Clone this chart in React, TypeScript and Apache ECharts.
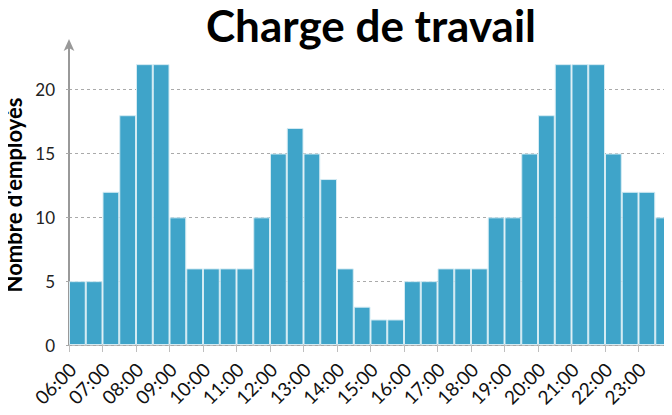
import React, { useEffect, useRef } from "react";
import * as echarts from "echarts";

const times = [
  "06:00","06:30","07:00","07:30","08:00","08:30","09:00","09:30","10:00","10:30",
  "11:00","11:30","12:00","12:30","13:00","13:30","14:00","14:30","15:00","15:30",
  "16:00","16:30","17:00","17:30","18:00","18:30","19:00","19:30","20:00","20:30",
  "21:00","21:30","22:00","22:30","23:00","23:30",
];
const employees = [
  5, 5, 12, 18, 22, 22, 10, 6, 6, 6,
  6, 10, 15, 17, 15, 13, 6, 3, 2, 2,
  5, 5, 6, 6, 6, 10, 10, 15, 18, 22,
  22, 22, 15, 12, 12, 10,
];
const yTicks = [0, 5, 10, 15, 20];

const FONT = "Lato";

export default function App() {
  const ref = useRef<HTMLDivElement>(null);
  useEffect(() => {
    if (!ref.current) return;
    const chart = echarts.init(ref.current, undefined, { renderer: "svg" });
    chart.setOption({
      animation: false,
      title: {
        text: "Charge de travail",
        left: 366,
        textAlign: "center",
        top: -2,
        textStyle: { fontFamily: FONT, fontSize: 44, fontWeight: "bold", color: "#000" },
      },
      grid: {
        left: 69,
        right: 0,
        top: 45,
        bottom: 70,
        containLabel: false,
        outerBoundsMode: "none",
      },
      xAxis: {
        type: "category",
        data: times,
        boundaryGap: true,
        axisLine: { show: true, lineStyle: { color: "#a6a6a6", width: 1.5 } },
        axisTick: { show: true, interval: 1, length: 7, lineStyle: { color: "#bfbfbf" } },
        axisLabel: {
          interval: 1,
          rotate: 45,
          fontFamily: FONT,
          fontSize: 19,
          color: "#111",
          margin: 16,
          padding: [0, 7, 0, 0],
        },
      },
      yAxis: {
        type: "value",
        min: 0,
        max: 23.5,
        interval: 5,
        name: "Nombre d'employés",
        nameLocation: "middle",
        nameGap: 40,
        nameRotate: 90,
        nameTextStyle: { fontFamily: FONT, fontSize: 22, fontWeight: "bold", color: "#000" },
        axisLine: {
          show: true,
          lineStyle: { color: "#999", width: 2 },
          symbol: ["none", "arrow"],
          symbolSize: [8, 12],
          symbolOffset: [0, 6],
        },
        axisTick: {
          show: true,
          length: 6,
          customValues: yTicks,
          lineStyle: { color: "#aaa", type: [3, 3] },
        },
        axisLabel: {
          fontFamily: FONT,
          fontSize: 17,
          color: "#222",
          margin: 14,
          customValues: yTicks,
        },
        splitLine: {
          show: true,
          lineStyle: { color: "#aaa", type: [3, 3], width: 1 },
        },
      },
      series: [
        {
          type: "bar",
          data: employees,
          barCategoryGap: 0,
          itemStyle: { color: "#3fa4c9", borderColor: "#d4ebf3", borderWidth: 1 },
        },
      ],
    });
    return () => chart.dispose();
  }, []);
  return <div ref={ref} style={{ width: 672, height: 415, margin: -8 }} />;
}
